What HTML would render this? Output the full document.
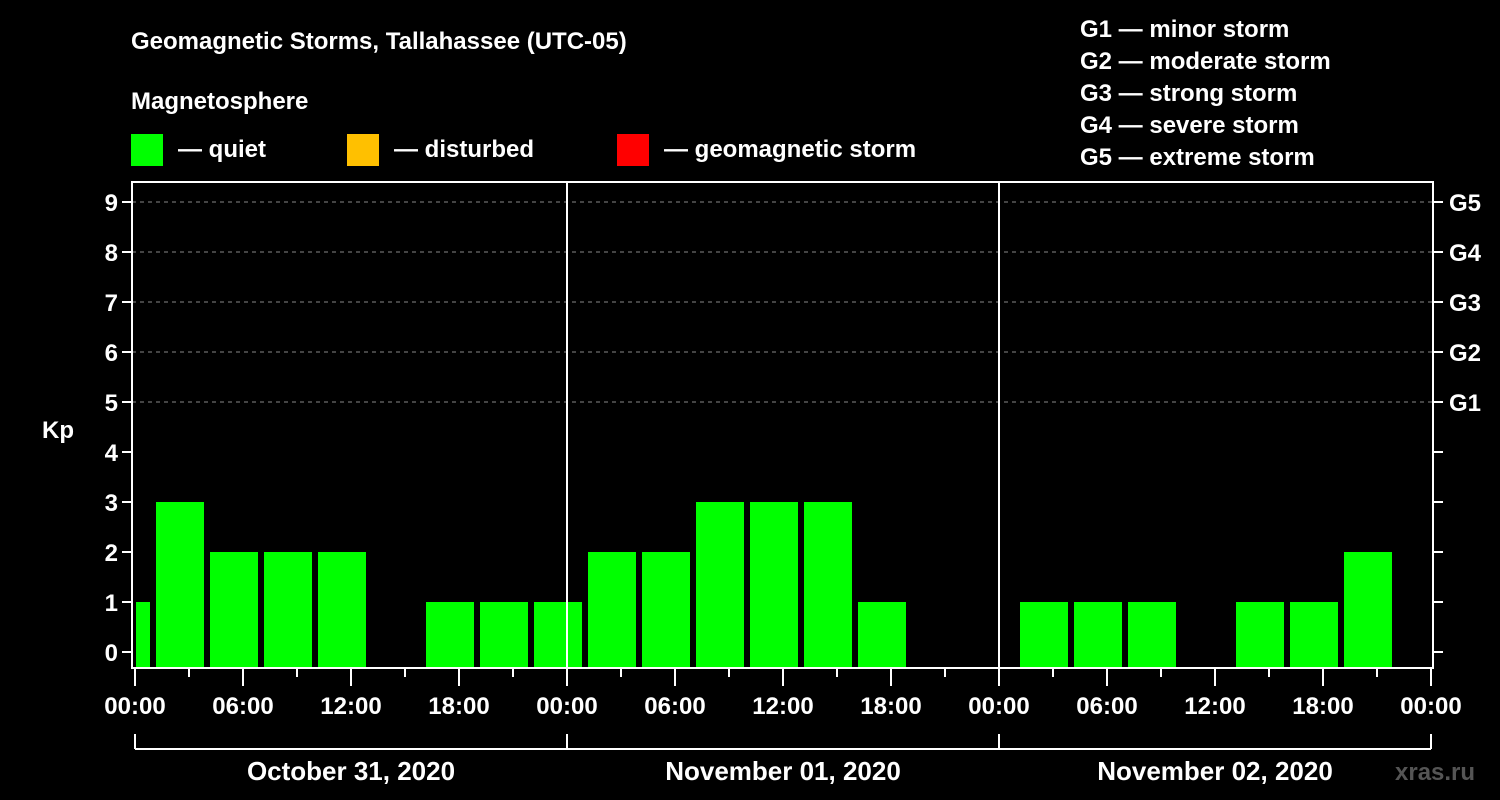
<!DOCTYPE html>
<html><head><meta charset="utf-8"><style>
html,body{margin:0;padding:0;background:#000;}
svg{display:block;font-family:"Liberation Sans",Arial,sans-serif;font-weight:bold;}
</style></head><body>
<svg id="chart" width="1500" height="800" viewBox="0 0 1500 800">
<rect x="0" y="0" width="1500" height="800" fill="#000"/>
<text x="131" y="49" fill="#fff" font-size="24">Geomagnetic Storms, Tallahassee (UTC-05)</text>
<text x="131" y="109" fill="#fff" font-size="24">Magnetosphere</text>
<g><rect x="131" y="134" width="32" height="32" fill="#00ff00"/><text x="178" y="157" fill="#fff" font-size="24">— quiet</text></g>
<g><rect x="347" y="134" width="32" height="32" fill="#ffc000"/><text x="394" y="157" fill="#fff" font-size="24">— disturbed</text></g>
<g><rect x="617" y="134" width="32" height="32" fill="#ff0000"/><text x="664" y="157" fill="#fff" font-size="24">— geomagnetic storm</text></g>
<g fill="#fff" font-size="24">
<text x="1080" y="37">G1 — minor storm</text>
<text x="1080" y="69">G2 — moderate storm</text>
<text x="1080" y="101">G3 — strong storm</text>
<text x="1080" y="133">G4 — severe storm</text>
<text x="1080" y="165">G5 — extreme storm</text>
</g>
<text x="42" y="438" fill="#fff" font-size="24">Kp</text>
<text x="1395" y="780" fill="#555" font-size="24">xras.ru</text>
<g id="grid"></g><g id="bars"></g><g id="axes"></g>
</svg>
<script>
const kpValues = [1,3,2,2,2,null,1,1,1,2,2,3,3,3,1,null,null,1,1,1,null,1,1,2,null];
const yTicks = [0,1,2,3,4,5,6,7,8,9];
const gLabels = ["G1","G2","G3","G4","G5"];
const gLevels = [5,6,7,8,9];
const dayLabels = ["October 31, 2020","November 01, 2020","November 02, 2020"];
const hourLabels = ["00:00","06:00","12:00","18:00"];
const NS="http://www.w3.org/2000/svg";
const X0=135, PX_H=18, Y0=652, PX_K=50, LEFT=132, RIGHT=1433, TOP=182, BOTTOM=668;
const xs=h=>X0+h*PX_H, ys=k=>Y0-k*PX_K;
function mk(tag,attrs,parent){const e=document.createElementNS(NS,tag);for(const k in attrs)e.setAttribute(k,attrs[k]);parent.appendChild(e);return e;}
const grid=document.getElementById('grid'),bars=document.getElementById('bars'),axes=document.getElementById('axes');
gLevels.forEach((g,i)=>{
 const l=mk('line',{x1:LEFT,x2:RIGHT,y1:ys(g),y2:ys(g),stroke:'#888','stroke-dasharray':'4,4','stroke-width':1},grid);
 
 
 const t=mk('text',{x:1449,y:ys(g)+9,fill:'#fff','font-size':24},axes);t.textContent=gLabels[i];
 
 
});
kpValues.forEach((v,i)=>{
 if(v===null)return;
 const s=Math.max(3*i-2,0), e=Math.min(3*i+1,72);
 const x1=Math.max(xs(3*i-2)+3,xs(0)+1), x2=xs(e)-3;
 const r=mk('rect',{x:x1,y:ys(v),width:x2-x1,height:BOTTOM-ys(v),fill:v>=5?'#ff0000':(v>=4?'#ffc000':'#00ff00')},bars);
 
 
});
const fr=mk('rect',{x:LEFT,y:TOP,width:RIGHT-LEFT,height:BOTTOM-TOP,fill:'none',stroke:'#fff','stroke-width':2},axes);


[24,48].forEach(h=>{const l=mk('line',{x1:xs(h),x2:xs(h),y1:TOP,y2:BOTTOM,stroke:'#fff','stroke-width':2},axes);
 
 });
yTicks.forEach(k=>{
 mk('line',{x1:LEFT-10,x2:LEFT,y1:ys(k),y2:ys(k),stroke:'#fff','stroke-width':2},axes);
 mk('line',{x1:RIGHT,x2:RIGHT+10,y1:ys(k),y2:ys(k),stroke:'#fff','stroke-width':2},axes);
 const t=mk('text',{x:LEFT-14,y:ys(k)+9,fill:'#fff','font-size':24,'text-anchor':'end'},axes);t.textContent=k;
 
 
});
for(let h=0;h<=72;h+=3){
 const big=h%6===0;
 mk('line',{x1:xs(h),x2:xs(h),y1:BOTTOM,y2:BOTTOM+(big?18:9),stroke:'#fff','stroke-width':2},axes);
 if(big){const t=mk('text',{x:xs(h),y:714,fill:'#fff','font-size':24,'text-anchor':'middle'},axes);
  t.textContent=hourLabels[(h%24)/6];
  
  }
}
mk('line',{x1:xs(0),x2:xs(72),y1:749,y2:749,stroke:'#fff','stroke-width':2},axes);
[0,24,48,72].forEach(h=>mk('line',{x1:xs(h),x2:xs(h),y1:734,y2:749,stroke:'#fff','stroke-width':2},axes));
dayLabels.forEach((d,i)=>{const t=mk('text',{x:xs(24*i+12),y:780,fill:'#fff','font-size':26,'text-anchor':'middle'},axes);t.textContent=d;
 
 });
</script>
</body></html>
